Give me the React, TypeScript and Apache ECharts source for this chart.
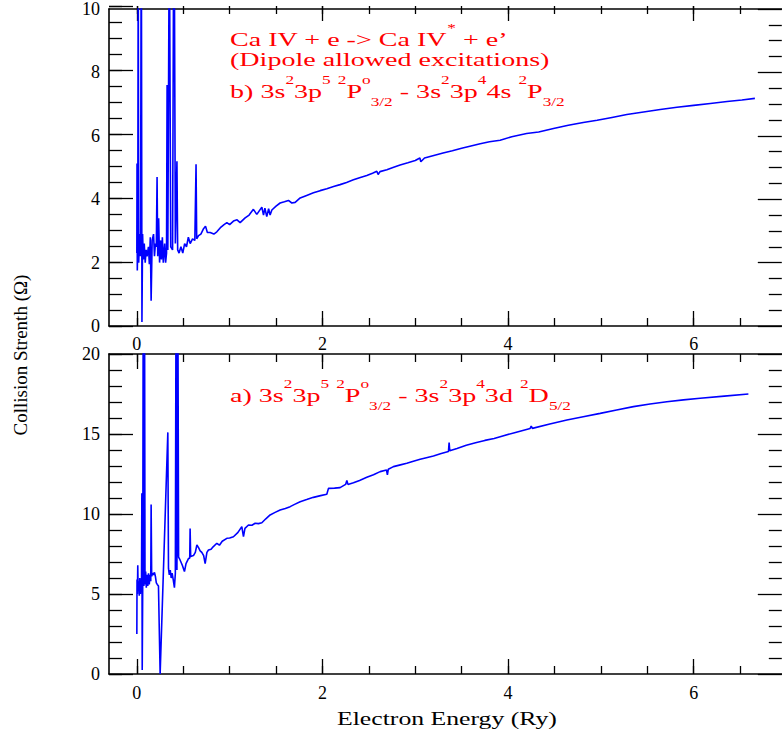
import React, { useEffect, useRef } from "react";
import * as echarts from "echarts";

// ---------- data ----------
const energyTop = [
  0.0, 0.002, 0.005, 0.01, 0.015, 0.02, 0.03, 0.04, 0.048, 0.055, 0.062, 0.07, 0.08, 0.09, 0.1, 0.11,
  0.125, 0.135, 0.145, 0.154, 0.165, 0.18, 0.19, 0.2, 0.21, 0.218, 0.225, 0.235, 0.245, 0.255, 0.265,
  0.275, 0.285, 0.3, 0.31, 0.32, 0.326, 0.334, 0.35, 0.365, 0.385, 0.4, 0.415, 0.432, 0.44, 0.455,
  0.475, 0.495, 0.515, 0.535, 0.555, 0.575, 0.6, 0.625, 0.638, 0.645, 0.665, 0.69, 0.715, 0.74, 0.76,
  0.79, 0.83, 0.862, 0.9, 0.94, 0.97, 1.0, 1.041, 1.08, 1.113, 1.167, 1.21, 1.256, 1.293, 1.347, 1.365,
  1.38, 1.4, 1.42, 1.436, 1.455, 1.5, 1.544, 1.59, 1.634, 1.67, 1.706, 1.76, 1.83, 1.903, 1.975, 2.047,
  2.12, 2.19, 2.26, 2.334, 2.4, 2.478, 2.54, 2.586, 2.6, 2.62, 2.694, 2.76, 2.837, 2.92, 3.0, 3.05,
  3.06, 3.1, 3.2, 3.3, 3.4, 3.5, 3.6, 3.7, 3.8, 3.915, 4.04, 4.2, 4.33, 4.49, 4.65, 4.81, 4.96, 5.12,
  5.28, 5.46, 5.64, 5.82, 6.0, 6.18, 6.36, 6.52, 6.66,
];
const omegaTop = [
  2.3, 5.13, 1.75, 2.6, 12, 2.0, 2.9, 2.2, 14, 0.13, 2.9, 2.1, 2.6, 2.0, 2.4, 2.2,
  2.5, 1.95, 2.8, 0.8, 2.7, 2.9, 2.2, 2.6, 2.5, 4.7, 2.2, 3.4, 2.0, 2.7, 2.1,
  2.8, 2.0, 2.6, 2.0, 2.3, 7.6, 2.4, 13, 2.5, 2.4, 15, 2.6, 5.2, 2.4, 2.3,
  2.5, 2.3, 2.6, 2.5, 2.8, 2.6, 2.75, 2.7, 5.1, 2.75, 2.85, 2.9, 3.05, 3.15, 2.95,
  2.95, 2.9, 2.97, 3.1, 3.2, 3.26, 3.2, 3.31, 3.35, 3.26, 3.41, 3.5, 3.68, 3.52, 3.75, 3.5,
  3.72, 3.45, 3.7, 3.5, 3.66, 3.78, 3.88, 3.92, 3.96, 3.88, 3.9, 4.04, 4.12, 4.2, 4.27, 4.33,
  4.4, 4.46, 4.53, 4.61, 4.68, 4.75, 4.82, 4.88, 4.78, 4.87, 4.93, 5.0, 5.08, 5.15, 5.22, 5.3,
  5.18, 5.3, 5.38, 5.46, 5.53, 5.61, 5.68, 5.75, 5.81, 5.86, 5.97, 6.07, 6.12, 6.23, 6.33, 6.42, 6.49, 6.58,
  6.67, 6.75, 6.83, 6.9, 6.96, 7.02, 7.08, 7.13, 7.18,
];

const energyBottom = [
  0.0, 0.002, 0.006, 0.01, 0.014, 0.02, 0.026, 0.032, 0.038, 0.044, 0.05, 0.054, 0.058, 0.064, 0.07,
  0.076, 0.082, 0.088, 0.095, 0.102, 0.11, 0.118, 0.126, 0.134, 0.142, 0.15, 0.154, 0.16, 0.17, 0.18,
  0.19, 0.2, 0.21, 0.22, 0.233, 0.251, 0.334, 0.341, 0.35, 0.36, 0.37, 0.38, 0.392, 0.405, 0.415,
  0.425, 0.432, 0.44, 0.45, 0.46, 0.475, 0.49, 0.513, 0.53, 0.555, 0.57, 0.574, 0.58, 0.61, 0.63,
  0.647, 0.665, 0.682, 0.7, 0.72, 0.736, 0.755, 0.772, 0.8, 0.822, 0.862, 0.89, 0.92, 0.97, 1.0,
  1.041, 1.09, 1.131, 1.149, 1.165, 1.203, 1.24, 1.275, 1.31, 1.347, 1.39, 1.436, 1.49, 1.544, 1.6,
  1.652, 1.7, 1.76, 1.83, 1.903, 1.98, 2.047, 2.065, 2.13, 2.19, 2.25, 2.263, 2.275, 2.334, 2.4,
  2.478, 2.55, 2.622, 2.69, 2.7, 2.71, 2.765, 2.84, 2.909, 2.98, 3.053, 3.12, 3.196, 3.28, 3.358,
  3.365, 3.372, 3.45, 3.55, 3.65, 3.75, 3.85, 3.915, 4.08, 4.238, 4.25, 4.262, 4.45, 4.634, 4.81,
  4.993, 5.17, 5.351, 5.53, 5.711, 5.89, 6.07, 6.33, 6.59,
];
const omegaBottom = [
  2.5, 5.9, 5.0, 6.8, 5.2, 5.8, 4.9, 6.0, 5.0, 5.9, 5.3, 11.3, 0.25, 6.2, 30,
  5.5, 28, 5.6, 6.4, 5.4, 6.2, 5.5, 6.3, 5.6, 6.2, 5.8, 10.6, 6.1, 6.3, 6.2,
  6.35, 6.1, 5.7, 5.6, 5.5, 0.0, 15.1, 6.6, 6.2, 6.5, 6.0, 6.3, 5.9, 5.4, 6.3,
  30, 6.5, 28, 7.3, 7.2, 7.0, 6.8, 6.4, 6.9, 7.2, 7.25, 9.1, 7.35, 7.4, 7.6,
  8.06, 7.9, 7.7, 7.6, 7.4, 6.9, 7.6, 7.75, 7.8, 7.95, 8.17, 8.05, 8.3, 8.48, 8.5,
  8.58, 8.85, 9.21, 8.58, 9.1, 9.31, 9.3, 9.42, 9.4, 9.45, 9.7, 9.94, 10.1, 10.25, 10.35,
  10.46, 10.6, 10.77, 10.9, 11.04, 11.15, 11.23, 11.6, 11.62, 11.65, 11.85, 12.1, 11.85, 11.95, 12.1,
  12.29, 12.45, 12.65, 12.75, 12.45, 12.8, 12.96, 13.07, 13.17, 13.3, 13.42, 13.52, 13.63, 13.78, 13.9,
  14.46, 13.95, 14.1, 14.3, 14.45, 14.6, 14.72, 14.83, 15.1, 15.35, 15.5, 15.35, 15.62, 15.88, 16.08,
  16.29, 16.5, 16.71, 16.87, 17.02, 17.13, 17.23, 17.37, 17.5,
];

const xLabelValues = [0, 2, 4, 6];

const xTitle = "Electron Energy (Ry)";
const yTitle = "Collision Strenth (\u03A9)";
const noteLine1 = "{b|Ca IV + e -> Ca IV}{sp|*}{b| + e\u2019}";
const noteLine2 = "{b|(Dipole allowed excitations)}";
const noteB = "{b|b) 3s}{sp|2}{b|3p}{sp|5}{b| }{sp|2}{b|P}{sp|o}{sb|3/2}{b| - 3s}{sp|2}{b|3p}{sp|4}{b|4s }{sp|2}{b|P}{sb|3/2}";
const noteA = "{b|a) 3s}{sp|2}{b|3p}{sp|5}{b| }{sp|2}{b|P}{sp|o}{sb|3/2}{b| - 3s}{sp|2}{b|3p}{sp|4}{b|3d }{sp|2}{b|D}{sb|5/2}";

// ---------- styling / layout ----------
const FONT = "'Liberation Serif', 'Times New Roman', serif";
const RED = "#ff0000";
const BLUE = "#0000ff";
const PLOT_LEFT = 109;
const PX_PER_UNIT = 92.8;
const X_MIN = -0.3;
const X_MAX = 6.95;
const ZERO_PX = PLOT_LEFT - X_MIN * PX_PER_UNIT;
const PANEL_H = 320;
const panels = [
  { top: 6, yMax: 10, yMajor: 2, yMinor: 0.5, minorSplit: 4 },
  { top: 354, yMax: 20, yMajor: 5, yMinor: 1, minorSplit: 5 },
];

const rich = {
  b: { fontSize: 19.5, lineHeight: 34, fontFamily: FONT, fill: RED, verticalAlign: "middle" },
  sp: { fontSize: 12, lineHeight: 21, fontFamily: FONT, fill: RED, verticalAlign: "top" },
  sb: { fontSize: 12, lineHeight: 15, fontFamily: FONT, fill: RED, verticalAlign: "bottom" },
};

const blackLine = { color: "#000", width: 1.6 };
const tickLine = { color: "#000", width: 1.3 };

function mainX(gridIndex: number, position: string, labels: boolean, margin: number) {
  return {
    type: "value", gridIndex, position, min: X_MIN, max: X_MAX,
    axisLine: { show: true, onZero: false, lineStyle: blackLine },
    axisTick: { show: false },
    minorTick: { show: false },
    axisLabel: { show: labels, customValues: xLabelValues, margin, fontFamily: FONT, fontSize: 18, lineHeight: 18, color: "#000" },
    splitLine: { show: false },
  };
}
function mainY(gridIndex: number, max: number, interval: number) {
  return {
    type: "value", gridIndex, position: "left", min: 0, max, interval,
    axisLine: { show: true, onZero: false, lineStyle: blackLine },
    axisTick: { show: false },
    minorTick: { show: false },
    axisLabel: { show: true, margin: 9, fontFamily: FONT, fontSize: 18, color: "#000" },
    splitLine: { show: false },
  };
}
function tickY(gridIndex: number, position: string, max: number, interval: number, minorSplit: number) {
  return {
    type: "value", gridIndex, position, min: 0, max, interval,
    axisLine: { show: false, onZero: false },
    axisTick: { show: true, inside: true, length: 24, lineStyle: tickLine },
    minorTick: { show: true, splitNumber: minorSplit, length: 13, lineStyle: tickLine },
    axisLabel: { show: false },
    splitLine: { show: false },
    minorSplitLine: { show: false },
  };
}
// tick marks drawn as split lines of a narrow strip grid
function stripAxis(gridIndex: number, max: number, interval: number) {
  return {
    type: "value", gridIndex, min: 0, max, interval,
    axisLine: { show: false, onZero: false },
    axisTick: { show: false },
    minorTick: { show: false },
    axisLabel: { show: false },
    splitLine: { show: true, lineStyle: tickLine },
  };
}
function hiddenAxis(gridIndex: number) {
  return { type: "value", gridIndex, min: 0, max: 1, show: false };
}

export default function App() {
  const ref = useRef<HTMLDivElement>(null);

  useEffect(() => {
    if (!ref.current) return;
    const chart = echarts.init(ref.current, null, { renderer: "svg" });
    const topData = energyTop.map((x, i) => [x, omegaTop[i]]);
    const bottomData = energyBottom.map((x, i) => [x, omegaBottom[i]]);

    const grids: any[] = [];
    const xAxis: any[] = [];
    const yAxis: any[] = [];

    // main panels: grid 0 and 1
    panels.forEach((p, i) => {
      grids.push({ left: PLOT_LEFT, top: p.top, width: (X_MAX - X_MIN) * PX_PER_UNIT, height: PANEL_H });
      xAxis.push(mainX(i, "bottom", true, i === 0 ? 9 : 10));
      xAxis.push(mainX(i, "top", false, 9));
      yAxis.push(mainY(i, p.yMax, p.yMajor));
      yAxis.push(tickY(i, "right", p.yMax, p.yMajor, p.minorSplit));
    });

    // tick strips
    panels.forEach((p) => {
      const xStrips = [
        { top: p.top + PANEL_H - 15, height: 15, max: 6, interval: 2 },
        { top: p.top + PANEL_H - 8, height: 8, max: 6.5, interval: 0.5 },
        { top: p.top, height: 15, max: 6, interval: 2 },
        { top: p.top, height: 8, max: 6.5, interval: 0.5 },
      ];
      xStrips.forEach((s) => {
        const g = grids.length;
        grids.push({ left: ZERO_PX, top: s.top, width: s.max * PX_PER_UNIT, height: s.height });
        xAxis.push(stripAxis(g, s.max, s.interval));
        yAxis.push(hiddenAxis(g));
      });
      const yStrips = [
        { width: 24, interval: p.yMajor },
        { width: 13, interval: p.yMinor },
      ];
      yStrips.forEach((s) => {
        const g = grids.length;
        grids.push({ left: PLOT_LEFT, top: p.top, width: s.width, height: PANEL_H });
        xAxis.push(hiddenAxis(g));
        yAxis.push(stripAxis(g, p.yMax, s.interval));
      });
    });

    chart.setOption({
      animation: false,
      backgroundColor: "#fff",
      grid: grids,
      xAxis,
      yAxis,
      series: [
        {
          type: "line", xAxisIndex: 0, yAxisIndex: 0, data: topData,
          showSymbol: false, symbol: "none", clip: true,
          lineStyle: { color: BLUE, width: 1.6 }, itemStyle: { color: BLUE },
        },
        {
          type: "line", xAxisIndex: 2, yAxisIndex: 2, data: bottomData,
          showSymbol: false, symbol: "none", clip: true,
          lineStyle: { color: BLUE, width: 1.6 }, itemStyle: { color: BLUE },
        },
      ],
      graphic: [
        { type: "text", x: 230, y: 22.4, scaleX: 1.44, style: { text: noteLine1, rich, align: "left", verticalAlign: "top" } },
        { type: "text", x: 230, y: 42.4, scaleX: 1.44, style: { text: noteLine2, rich, align: "left", verticalAlign: "top" } },
        { type: "text", x: 230, y: 74.4, scaleX: 1.44, style: { text: noteB, rich, align: "left", verticalAlign: "top" } },
        { type: "text", x: 230, y: 378.4, scaleX: 1.44, style: { text: noteA, rich, align: "left", verticalAlign: "top" } },
        {
          type: "text", x: 337, y: 719, scaleX: 1.43,
          style: { text: xTitle, fontFamily: FONT, fontSize: 18, lineHeight: 18, fill: "#000", align: "left", verticalAlign: "middle" },
        },
        {
          type: "text", x: 20, y: 355, rotation: Math.PI / 2,
          style: { text: yTitle, fontFamily: FONT, fontSize: 19, lineHeight: 19, fill: "#000", align: "center", verticalAlign: "middle" },
        },
      ],
    });

    return () => {
      chart.dispose();
    };
  }, []);

  return (
    <div
      ref={ref}
      style={{ position: "absolute", left: 0, top: 0, width: 782, height: 734, background: "#fff" }}
    />
  );
}
